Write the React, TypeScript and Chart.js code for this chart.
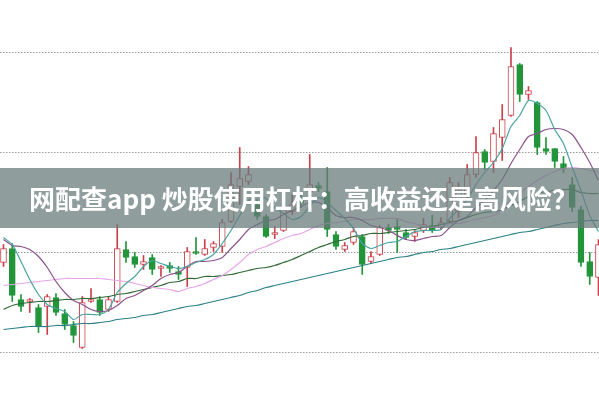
import React, { useEffect, useRef } from "react";
import { Chart, registerables } from "chart.js";
Chart.register(...registerables);

const TITLE = "网配查app 炒股使用杠杆：高收益还是高风险？";

const OPEN = [10.89, 11.03, 10.52, 10.50, 10.44, 10.45, 10.54, 10.38, 10.26, 10.04,
  10.50, 10.52, 10.42, 10.50, 11.02, 10.95, 10.87, 10.94, 10.83, 10.86,
  10.80, 10.84, 11.00, 10.97, 11.04, 11.05, 11.30, 11.65, 11.70, 11.47,
  11.35, 11.17, 11.21, 11.40, 11.54, 11.60, 11.66, 11.60, 11.17, 11.02,
  11.09, 11.15, 10.90, 10.97, 11.24, 11.25, 11.19, 11.15, 11.21, 11.26,
  11.24, 11.30, 11.40, 11.57, 11.77, 12.00, 11.90, 12.14, 12.36, 12.87,
  12.57, 12.49, 12.03, 12.03, 11.88, 11.67, 11.42, 10.90, 10.74];
const CLOSE = [11.03, 10.56, 10.45, 10.52, 10.25, 10.55, 10.39, 10.27, 10.16, 10.49,
  10.52, 10.39, 10.52, 11.03, 10.94, 10.87, 10.90, 10.82, 10.85, 10.83,
  10.77, 11.00, 10.98, 11.03, 11.08, 11.29, 11.67, 11.73, 11.77, 11.35,
  11.15, 11.19, 11.44, 11.47, 11.48, 11.67, 11.63, 11.22, 11.05, 11.06,
  11.20, 10.87, 10.95, 11.24, 11.21, 11.22, 11.14, 11.19, 11.27, 11.21,
  11.29, 11.69, 11.62, 11.77, 11.99, 11.89, 12.18, 12.32, 12.85, 12.57,
  12.61, 12.04, 12.00, 11.90, 11.83, 11.44, 10.89, 10.75, 11.07];
const HIGH = [11.07, 11.08, 10.57, 10.53, 10.47, 10.57, 10.58, 10.42, 10.30, 10.55,
  10.63, 10.55, 10.55, 11.27, 11.10, 10.99, 10.96, 10.97, 10.86, 10.89,
  10.85, 11.04, 11.14, 11.12, 11.10, 11.32, 11.79, 12.04, 11.85, 11.52,
  11.37, 11.25, 11.49, 11.57, 11.57, 11.97, 11.69, 11.84, 11.20, 11.09,
  11.24, 11.17, 11.00, 11.26, 11.27, 11.32, 11.22, 11.21, 11.33, 11.36,
  11.34, 11.74, 11.69, 11.87, 12.15, 12.02, 12.24, 12.47, 13.04, 12.88,
  12.65, 12.50, 12.14, 12.03, 11.95, 11.74, 11.45, 10.99, 11.12];
const LOW = [10.85, 10.50, 10.40, 10.39, 10.19, 10.17, 10.36, 10.22, 10.09, 10.03,
  10.49, 10.36, 10.40, 10.49, 10.89, 10.84, 10.82, 10.77, 10.75, 10.79,
  10.72, 10.65, 10.97, 10.96, 11.00, 10.99, 11.29, 11.47, 11.67, 11.32,
  11.14, 11.13, 11.20, 11.37, 11.44, 11.50, 11.60, 11.15, 11.02, 11.00,
  11.07, 10.77, 10.88, 10.96, 11.18, 10.99, 11.12, 11.10, 11.19, 11.19,
  11.22, 11.29, 11.34, 11.52, 11.74, 11.82, 11.79, 11.91, 12.35, 12.50,
  12.52, 11.97, 11.97, 11.84, 11.79, 11.40, 10.85, 10.67, 10.56];

const MA5 = [11.14, 11.07, 10.90, 10.72, 10.57, 10.47, 10.43, 10.40, 10.32, 10.37,
  10.37, 10.37, 10.42, 10.59, 10.68, 10.75, 10.85, 10.91, 10.88, 10.85,
  10.83, 10.85, 10.89, 10.92, 10.97, 11.08, 11.21, 11.36, 11.51, 11.56,
  11.53, 11.44, 11.38, 11.32, 11.35, 11.45, 11.54, 11.49, 11.41, 11.33,
  11.23, 11.08, 11.03, 11.06, 11.09, 11.10, 11.15, 11.20, 11.21, 11.21,
  11.22, 11.33, 11.42, 11.52, 11.67, 11.79, 11.89, 12.03, 12.25, 12.36,
  12.51, 12.48, 12.41, 12.22, 12.08, 11.84, 11.61, 11.36, 11.20];
const MA10 = [11.12, 11.06, 11.05, 11.02, 10.95, 10.84, 10.70, 10.59, 10.51, 10.47,
  10.42, 10.40, 10.41, 10.46, 10.53, 10.56, 10.61, 10.66, 10.73, 10.77,
  10.79, 10.85, 10.90, 10.90, 10.91, 10.94, 11.03, 11.12, 11.22, 11.27,
  11.31, 11.32, 11.37, 11.41, 11.45, 11.49, 11.49, 11.44, 11.36, 11.34,
  11.34, 11.31, 11.26, 11.24, 11.21, 11.16, 11.12, 11.11, 11.13, 11.15,
  11.16, 11.24, 11.31, 11.35, 11.44, 11.51, 11.61, 11.72, 11.88, 12.02,
  12.15, 12.18, 12.22, 12.23, 12.22, 12.17, 12.04, 11.89, 11.71];
const MA20 = [10.66, 10.67, 10.68, 10.69, 10.70, 10.71, 10.72, 10.73, 10.73, 10.73,
  10.73, 10.73, 10.72, 10.71, 10.70, 10.68, 10.66, 10.64, 10.63, 10.62,
  10.60, 10.63, 10.65, 10.68, 10.72, 10.76, 10.82, 10.89, 10.97, 11.02,
  11.05, 11.09, 11.13, 11.16, 11.18, 11.22, 11.26, 11.28, 11.29, 11.30,
  11.32, 11.32, 11.32, 11.33, 11.33, 11.33, 11.30, 11.28, 11.25, 11.24,
  11.25, 11.28, 11.28, 11.30, 11.32, 11.34, 11.36, 11.42, 11.51, 11.58,
  11.65, 11.71, 11.76, 11.80, 11.83, 11.84, 11.83, 11.81, 11.80];
const MA30 = [10.42, 10.46, 10.48, 10.49, 10.50, 10.50, 10.51, 10.52, 10.52, 10.53,
  10.53, 10.54, 10.55, 10.57, 10.58, 10.60, 10.62, 10.64, 10.66, 10.69,
  10.70, 10.73, 10.73, 10.75, 10.75, 10.76, 10.77, 10.79, 10.81, 10.83,
  10.84, 10.86, 10.89, 10.92, 10.96, 11.00, 11.04, 11.07, 11.10, 11.12,
  11.15, 11.16, 11.18, 11.18, 11.19, 11.20, 11.21, 11.22, 11.24, 11.25,
  11.27, 11.29, 11.31, 11.34, 11.37, 11.39, 11.40, 11.42, 11.46, 11.50,
  11.55, 11.58, 11.60, 11.61, 11.62, 11.62, 11.59, 11.58, 11.58];
const MA60 = [10.22, 10.23, 10.24, 10.25, 10.25, 10.25, 10.26, 10.26, 10.27, 10.28,
  10.28, 10.29, 10.30, 10.32, 10.33, 10.34, 10.36, 10.37, 10.39, 10.41,
  10.43, 10.45, 10.46, 10.48, 10.50, 10.52, 10.54, 10.56, 10.59, 10.61,
  10.64, 10.66, 10.68, 10.70, 10.72, 10.74, 10.76, 10.78, 10.80, 10.82,
  10.84, 10.86, 10.88, 10.90, 10.92, 10.94, 10.95, 10.97, 10.99, 11.00,
  11.02, 11.03, 11.05, 11.07, 11.09, 11.11, 11.13, 11.15, 11.17, 11.19,
  11.20, 11.22, 11.24, 11.26, 11.28, 11.29, 11.30, 11.31, 11.31];

const GRID_LEVELS = [10, 11, 12, 13];
const Y_MIN = 9.525;
const Y_MAX = 13.515;

const RED = "#c8414b";
const GREEN = "#22953a";
const C_MA5 = "#4aa3a3";
const C_MA10 = "#8c528c";
const C_MA20 = "#e8a6e8";
const C_MA30 = "#2f6a35";
const C_MA60 = "#2a8085";

export default function App() {
  const ref = useRef<HTMLCanvasElement>(null);
  useEffect(() => {
    if (!ref.current) return;
    const idx = OPEN.map((_, i) => i);
    const up = (i: number) => CLOSE[i] >= OPEN[i];
    const gridPlugin = {
      id: "dottedGrid",
      beforeDatasetsDraw(chart: any) {
        const { ctx, chartArea, scales } = chart;
        ctx.save();
        ctx.strokeStyle = "#9a9a9a";
        ctx.lineWidth = 1;
        ctx.setLineDash([1.5, 1.5]);
        GRID_LEVELS.forEach((v) => {
          const y = Math.round(scales.y.getPixelForValue(v)) + 0.5;
          ctx.beginPath();
          ctx.moveTo(chartArea.left, y);
          ctx.lineTo(chartArea.right, y);
          ctx.stroke();
        });
        ctx.restore();
      },
    };
    const line = (label: string, values: number[], color: string) => ({
      type: "line" as const,
      label,
      data: values.map((v, i) => ({ x: i, y: v })),
      borderColor: color,
      borderWidth: 1.2,
      pointRadius: 0,
      tension: 0.25,
      fill: false,
      order: 1,
    });
    const chart = new Chart(ref.current, {
      type: "bar",
      data: {
        datasets: [
          {
            type: "bar",
            label: "wick",
            data: idx.map((i) => ({ x: i, y: [LOW[i], HIGH[i]] })) as any,
            backgroundColor: (c: any) => (up(c.dataIndex) ? RED : GREEN),
            barThickness: 1,
            grouped: false,
            order: 3,
          } as any,
          {
            type: "bar",
            label: "body",
            data: idx.map((i) => ({ x: i, y: [OPEN[i], CLOSE[i]] })) as any,
            backgroundColor: (c: any) => (up(c.dataIndex) ? "#ffffff" : GREEN),
            borderColor: (c: any) => (up(c.dataIndex) ? RED : GREEN),
            borderWidth: 1,
            borderSkipped: false,
            barThickness: 6,
            minBarLength: 2,
            grouped: false,
            order: 2,
          } as any,
          line("MA5", MA5, C_MA5),
          line("MA10", MA10, C_MA10),
          line("MA20", MA20, C_MA20),
          line("MA30", MA30, C_MA30),
          line("MA60", MA60, C_MA60),
        ] as any,
      },
      options: {
        animation: false,
        responsive: false,
        maintainAspectRatio: false,
        events: [],
        layout: { padding: 0 },
        plugins: { legend: { display: false }, tooltip: { enabled: false } },
        scales: {
          x: { type: "linear", min: -0.4, max: 68.06, offset: false, display: false },
          y: { type: "linear", min: Y_MIN, max: Y_MAX, display: false },
        },
      } as any,
      plugins: [gridPlugin],
    });
    return () => chart.destroy();
  }, []);

  return (
    <div style={{ position: "fixed", left: 0, top: 0, width: 599, height: 399, background: "#ffffff", overflow: "hidden" }}>
      <canvas ref={ref} width={599} height={399} style={{ display: "block" }} />
      <div
        style={{
          position: "absolute",
          left: 0,
          top: 168,
          width: 599,
          height: 60,
          background: "rgba(104,123,123,0.74)",
          color: "#ffffff",
          fontFamily: '"Noto Sans CJK SC", "Noto Sans", sans-serif',
          fontWeight: 700,
          fontSize: 26,
          lineHeight: "60px",
          textAlign: "center",
          paddingLeft: 8,
          boxSizing: "border-box",
          whiteSpace: "nowrap",
        }}
      >
        {TITLE}
      </div>
    </div>
  );
}
